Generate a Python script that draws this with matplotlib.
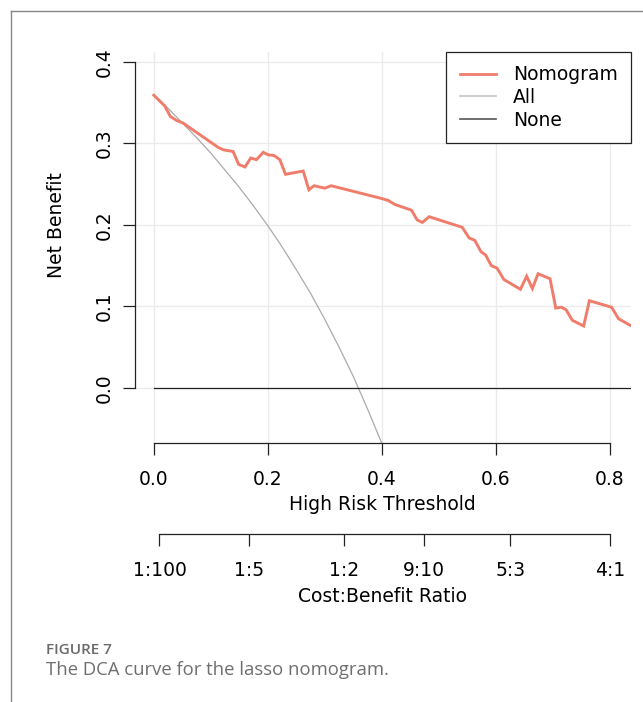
import matplotlib
matplotlib.use('Agg')
import matplotlib.pyplot as plt
from matplotlib.lines import Line2D
from matplotlib.ticker import FormatStrFormatter

# nomogram net benefit
nomo_t = [0.0, 0.019, 0.029, 0.040, 0.051, 0.113, 0.122, 0.139, 0.149, 0.160, 0.170,
          0.180, 0.192, 0.200, 0.211, 0.221, 0.231, 0.262, 0.272, 0.281, 0.300, 0.311,
          0.396, 0.411, 0.423, 0.452, 0.462, 0.471, 0.483, 0.541, 0.553, 0.563, 0.574,
          0.582, 0.592, 0.602, 0.614, 0.643, 0.654, 0.664, 0.674, 0.695, 0.705, 0.715,
          0.723, 0.734, 0.754, 0.764, 0.803, 0.815, 0.835]
nomo_nb = [0.359, 0.346, 0.333, 0.328, 0.325, 0.295, 0.292, 0.290, 0.274, 0.271, 0.282,
           0.280, 0.289, 0.286, 0.285, 0.280, 0.262, 0.266, 0.243, 0.248, 0.245, 0.248,
           0.233, 0.230, 0.225, 0.218, 0.206, 0.203, 0.210, 0.197, 0.184, 0.181, 0.167,
           0.163, 0.150, 0.147, 0.133, 0.121, 0.137, 0.122, 0.140, 0.134, 0.098, 0.099,
           0.096, 0.083, 0.076, 0.107, 0.099, 0.085, 0.077]

# treat-all curve
all_t = [0.0, 0.025, 0.05, 0.075, 0.1, 0.125, 0.15, 0.175, 0.2, 0.225, 0.25, 0.275,
         0.3, 0.325, 0.35, 0.375, 0.4, 0.41]
all_nb = [0.359, 0.343, 0.325, 0.307, 0.288, 0.267, 0.246, 0.223, 0.199, 0.173, 0.145,
          0.116, 0.084, 0.050, 0.014, -0.026, -0.068, -0.087]

# treat-none
none_t = [0.0, 0.837]
none_nb = [0.0, 0.0]

x_ticks = [0.0, 0.2, 0.4, 0.6, 0.8]
y_ticks = [0.0, 0.1, 0.2, 0.3, 0.4]
cb_ticks = [1 / 101, 1 / 6, 1 / 3, 9 / 19, 5 / 8, 4 / 5]
cb_labels = ['1:100', '1:5', '1:2', '9:10', '5:3', '4:1']

W, H = 643, 702
fs = 13.5
fig = plt.figure(figsize=(W / 100, H / 100), dpi=100)

# axes box in pixel coords
left, right, top, bottom = 135, 631, 52, 443
ax = fig.add_axes([left / W, 1 - bottom / H, (right - left) / W, (bottom - top) / H])
xlim = (-0.033, 0.837)
ax.set_xlim(*xlim)
ax.set_ylim(-0.0675, 0.412)

ax.set_axisbelow(True)
ax.grid(color='#EBEBEB', lw=1)
ax.plot(nomo_t, nomo_nb, color='#F07C6C', lw=2.1, solid_joinstyle='miter', zorder=3)
ax.plot(all_t, all_nb, color='#AAAAAA', lw=0.9, zorder=2)
ax.plot(none_t, none_nb, color='#222222', lw=0.9, zorder=2)

for s in ['top', 'right']:
    ax.spines[s].set_visible(False)
ax.spines['left'].set_bounds(0, 0.4)
ax.spines['bottom'].set_bounds(0, 0.8)
for s in ['left', 'bottom']:
    ax.spines[s].set_linewidth(0.9)
    ax.spines[s].set_color('#222222')

ax.set_xticks(x_ticks)
ax.set_yticks(y_ticks)
ax.xaxis.set_major_formatter(FormatStrFormatter('%.1f'))
ax.yaxis.set_major_formatter(FormatStrFormatter('%.1f'))
ax.tick_params(length=8.5, width=0.9, color='#222222', labelsize=fs, pad=11)
ax.tick_params(axis='y', pad=7)
for lab in ax.get_yticklabels():
    lab.set_rotation(90)
    lab.set_va('center')

handles = [Line2D([], [], color='#F07C6C', lw=2.0),
           Line2D([], [], color='#C4C4C4', lw=1.2),
           Line2D([], [], color='#555555', lw=1.2)]
leg = ax.legend(handles, ['Nomogram', 'All', 'None'], loc='upper right',
                bbox_to_anchor=(1.0, 1.0), borderaxespad=0, fontsize=fs,
                fancybox=False, framealpha=1, edgecolor='#222222',
                handlelength=1.95, handletextpad=0.9, labelspacing=0.2,
                borderpad=0.7)
leg.get_frame().set_linewidth(0.9)

# cost:benefit axis
ax2 = fig.add_axes([left / W, 1 - 534 / H, (right - left) / W, 0.0001])
ax2.set_xlim(*xlim)
ax2.patch.set_visible(False)
for s in ['top', 'right', 'left']:
    ax2.spines[s].set_visible(False)
ax2.spines['bottom'].set_bounds(cb_ticks[0], cb_ticks[-1])
ax2.spines['bottom'].set_linewidth(0.9)
ax2.spines['bottom'].set_color('#222222')
ax2.set_yticks([])
ax2.set_xticks(cb_ticks)
ax2.set_xticklabels(cb_labels)
ax2.tick_params(length=8.5, width=0.9, color='#222222', labelsize=fs, pad=11)

cx = (154 + 610) / 2 / W
fig.text(cx, 1 - 505 / H, 'High Risk Threshold', ha='center', va='center', fontsize=fs)
fig.text(cx, 1 - 596 / H, 'Cost:Benefit Ratio', ha='center', va='center', fontsize=fs)
fig.text(57 / W, 1 - 225 / H, 'Net Benefit', ha='center', va='center', rotation=90, fontsize=fs)

# caption
fig.text(46 / W, 1 - 650 / H, 'FIGURE 7', ha='left', va='center', fontsize=11,
         family='Open Sans', weight='semibold', color='#6a6a6a')
fig.text(46 / W, 1 - 670 / H, 'The DCA curve for the lasso nomogram.', ha='left',
         va='center', fontsize=13.3, family='Open Sans', color='#6f6f6f')

# outer frame
fig.add_artist(Line2D([11 / W, 1], [1 - 11 / H, 1 - 11 / H], color='#888888', lw=1))
fig.add_artist(Line2D([11 / W, 11 / W], [0, 1 - 11 / H], color='#888888', lw=1))

fig.savefig('out.png', dpi=100)
